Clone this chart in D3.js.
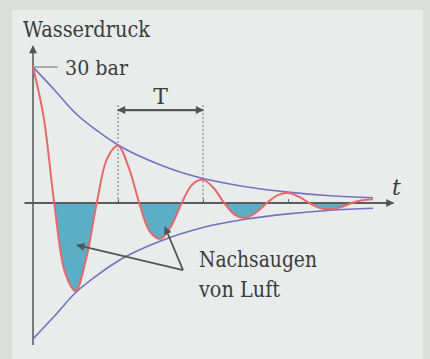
<!DOCTYPE html>
<html><head><meta charset="utf-8">
<script src="https://cdn.jsdelivr.net/npm/d3@7"></script>
<style>html,body{margin:0;padding:0;background:#dadfdc;}svg{display:block;}
text{font-family:"DejaVu Serif",serif;}</style>
</head><body>
<svg id="c" width="430" height="359"></svg>
<script>
// time in periods T, pressure in bar
const pressureT = [0,0.125,0.25,0.375,0.5,0.625,0.75,0.875,1,1.125,1.25,1.375,1.5,1.625,1.75,1.875,2,2.125,2.25,2.375,2.5,2.625,2.75,2.875,3,3.125,3.25,3.375,3.5,3.625,3.75,3.875,4];
const pressureBar = [30,19.0,0,-15.2,-19.4,-12.3,0,9.9,12.6,7.9,0,-6.3,-7.9,-5.1,0,4.1,5.1,3.3,0,-2.6,-3.3,-2.1,0,1.7,2.2,1.4,0,-1.1,-1.4,-0.9,0,0.6,0.8];
const envT = [0,0.25,0.5,0.75,1,1.5,2,2.5,3,3.5,4];
const envBar = [30,25,19.8,16,12.8,8.4,5.4,3.6,2.4,1.6,1.15];
const periodTicks = [1,2,3];
const labels = {y:"Wasserdruck", max:"30 bar", period:"T", x:"t", note1:"Nachsaugen", note2:"von Luft"};

const svg = d3.select("#c");
const W=430,H=359;
svg.append("rect").attr("width",W).attr("height",H).attr("fill","#dadfdc");
svg.append("rect").attr("x",12).attr("y",10).attr("width",411).attr("height",349).attr("fill","#e8edeb");

const x = d3.scaleLinear().domain([0,4]).range([33,373]);
const y = d3.scaleLinear().domain([0,30]).range([203,67]);

const defs = svg.append("defs");
defs.append("marker").attr("id","ah").attr("viewBox","0 0 10 10").attr("refX",9).attr("refY",5)
  .attr("markerWidth",10).attr("markerHeight",8).attr("markerUnits","userSpaceOnUse").attr("orient","auto-start-reverse")
  .append("path").attr("d","M0,0L10,5L0,10Z").attr("fill","#555");
defs.append("clipPath").attr("id","neg").append("rect")
  .attr("x",0).attr("y",y(0)+1).attr("width",W).attr("height",H);

const pts = pressureT.map((t,i)=>({t, p:pressureBar[i]}));
const env = envT.map((t,i)=>({t, p:envBar[i]}));

// fill of negative lobes
svg.append("path").datum(pts).attr("clip-path","url(#neg)")
  .attr("d", d3.area().x(d=>x(d.t)).y0(y(0)).y1(d=>y(d.p)).curve(d3.curveCatmullRom.alpha(0.5)))
  .attr("fill","#5aaec6");

// dotted period guides
[1,2].forEach(k=>{
  svg.append("line").attr("x1",x(k)).attr("x2",x(k)).attr("y1",y(0)).attr("y2",y(21.8))
    .attr("stroke","#777").attr("stroke-width",1).attr("stroke-dasharray","2,2");
});

// x axis
svg.append("line").attr("x1",x(-0.1)).attr("x2",x(4.24)).attr("y1",y(0)).attr("y2",y(0))
  .attr("stroke","#5c5c5c").attr("stroke-width",2).attr("marker-end","url(#ah)");
const xa = svg.append("g").attr("transform",`translate(0,${y(0)})`)
  .call(d3.axisBottom(x).tickValues(periodTicks).tickSize(-4).tickFormat(""));
xa.select(".domain").remove();
xa.selectAll("line").attr("stroke","#666");

// y axis
svg.append("line").attr("x1",x(0)).attr("x2",x(0)).attr("y1",y(-31.3)).attr("y2",y(34.6))
  .attr("stroke","#555").attr("stroke-width",1.5).attr("marker-end","url(#ah)");

// 30 bar tick
svg.append("line").attr("x1",x(0)).attr("x2",x(0.29)).attr("y1",y(30)).attr("y2",y(30))
  .attr("stroke","#aaa").attr("stroke-width",2);

// envelopes
const envLine = d3.line().x(d=>x(d.t)).y(d=>y(d.p)).curve(d3.curveMonotoneX);
svg.append("path").datum(env).attr("d",envLine).attr("fill","none").attr("stroke","#7272c2").attr("stroke-width",1.6);
svg.append("path").datum(env.map(d=>({t:d.t,p:-d.p}))).attr("d",envLine).attr("fill","none").attr("stroke","#7272c2").attr("stroke-width",1.6);

// pressure curve
svg.append("path").datum(pts)
  .attr("d", d3.line().x(d=>x(d.t)).y(d=>y(d.p)).curve(d3.curveCatmullRom.alpha(0.5)))
  .attr("fill","none").attr("stroke","#e8686a").attr("stroke-width",2);

// T arrow
svg.append("line").attr("x1",x(1)).attr("x2",x(2)).attr("y1",y(20.5)).attr("y2",y(20.5))
  .attr("stroke","#555").attr("stroke-width",2.2)
  .attr("marker-start","url(#ah)").attr("marker-end","url(#ah)");

// annotation arrows
const tail = {t:1.765, p:-14.8};
[{t:0.52,p:-9.3},{t:1.553,p:-5.3}].forEach(h=>{
  svg.append("line").attr("x1",x(tail.t)).attr("y1",y(tail.p)).attr("x2",x(h.t)).attr("y2",y(h.p))
    .attr("stroke","#555").attr("stroke-width",1.8).attr("marker-end","url(#ah)");
});

// texts
function txt(s,xx,yy,len,opt={}){
  const t = svg.append("text").attr("x",xx).attr("y",yy).text(s)
    .attr("font-size",opt.size||22).attr("fill","#3c3c3c")
    .attr("text-anchor",opt.anchor||"start").attr("font-style",opt.style||"normal");
  if(len) t.attr("textLength",len).attr("lengthAdjust","spacingAndGlyphs");
  return t;
}
txt(labels.y,23,37,127);
txt(labels.max,65,75,63,{size:21});
txt(labels.period,(x(1)+x(2))/2,104,null,{anchor:"middle"});
txt(labels.x,392,195,null,{style:"italic"});
txt(labels.note1,199,267,118);
txt(labels.note2,199,297,81);
</script>
</body></html>
